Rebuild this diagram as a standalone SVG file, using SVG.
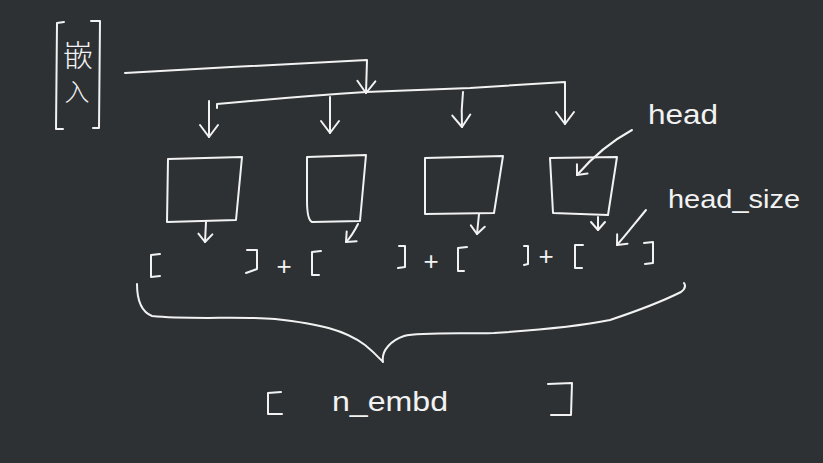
<svg xmlns="http://www.w3.org/2000/svg" width="823" height="463" viewBox="0 0 823 463">
<style>
.s{fill:none;stroke:#f2f2f2;stroke-width:2;stroke-linecap:round;stroke-linejoin:round}
.t{fill:#f2f2f2;font-family:"Liberation Sans","Noto Sans CJK SC",sans-serif}
.c{fill:#f2f2f2;font-family:"Noto Sans CJK SC","Noto Sans CJK JP",sans-serif;font-weight:300}
</style>
<defs>
<marker id="big" markerUnits="userSpaceOnUse" markerWidth="30" markerHeight="30" refX="0" refY="0" viewBox="-15 -15 30 30" orient="auto" overflow="visible">
<path d="M-12,-9 L0,0 L-12,9" fill="none" stroke="#f2f2f2" stroke-width="2" stroke-linecap="round" stroke-linejoin="round"/>
</marker>
<marker id="small" markerUnits="userSpaceOnUse" markerWidth="20" markerHeight="20" refX="0" refY="0" viewBox="-10 -10 20 20" orient="auto" overflow="visible">
<path d="M-8,-7 L0,0 L-8,7" fill="none" stroke="#f2f2f2" stroke-width="2" stroke-linecap="round" stroke-linejoin="round"/>
</marker>
</defs>
<rect width="823" height="463" fill="#2d3134"/>

<g id="embed">
<path class="s" d="M64,22 L57,23 L56,129 L63,129"/>
<path class="s" d="M91,21 L100,21 L99,128 L93,128"/>
<text class="c" x="78" y="66" font-size="30" text-anchor="middle">嵌</text>
<text class="c" x="77" y="101" font-size="25" text-anchor="middle">入</text>
</g>

<g id="head1"><path class="s" d="M168,159 L242,157 L236,220 L167,222 Z"/></g>
<g id="head2"><path class="s" d="M307,157 L366,155 L360,221 L312,222 Q307,220 307,200 Z"/></g>
<g id="head3"><path class="s" d="M425,158 L503,156 L494,213 L425,214 Z"/></g>
<g id="head4"><path class="s" d="M550,158 L617,157 L608,215 L553,213 Z"/></g>

<g id="label-head"><text class="t" x="648" y="124" font-size="28" textLength="70" lengthAdjust="spacingAndGlyphs">head</text></g>
<g id="label-head_size"><text class="t" x="668" y="208" font-size="26" textLength="132" lengthAdjust="spacingAndGlyphs">head_size</text></g>

<g id="concat">
<path class="s" d="M160,254 L151,255 L151,277 L160,276"/>
<path class="s" d="M247,250 L257,250 L257,269 L246,273"/>
<text class="t" x="284" y="275" font-size="26" text-anchor="middle">+</text>
<path class="s" d="M321,251 L312,252 L312,275 L319,275"/>
<path class="s" d="M399,246 L405,246 L405,267 L398,268"/>
<text class="t" x="431" y="270" font-size="26" text-anchor="middle">+</text>
<path class="s" d="M467,247 L458,248 L458,271 L464,271"/>
<path class="s" d="M524,246 L528,246 L528,264 L524,265"/>
<text class="t" x="546" y="265" font-size="26" text-anchor="middle">+</text>
<path class="s" d="M583,245 L575,245 L575,268 L582,268"/>
<path class="s" d="M644,243 L653,242 L653,263 L645,264"/>
</g>

<g id="brace">
<path class="s" d="M137,284 C137,300 142,312 152,316 C190,320 240,316 275,319 C320,324 345,330 365,345 C375,353 381,360 383,362 C381,350 392,340 404,336 C420,332 460,334 494,333 C540,330 580,326 610,320 C640,310 665,300 681,292 C685,289 686,286 684,283"/>
</g>

<g id="result">
<path class="s" d="M281,392 L268,393 L268,414 L282,414"/>
<text class="t" x="332" y="411" font-size="28" textLength="116" lengthAdjust="spacingAndGlyphs">n_embd</text>
<path class="s" d="M548,384 L572,383 L571,415 L551,415"/>
</g>

<g id="connectors">
<path class="s" d="M125,73 C200,69 300,63 367,60 L366,93" marker-end="url(#big)"/>
<path class="s" d="M217,108 L217,104 C260,100 320,95 366,92 L470,88 L565,82 L565,124" marker-end="url(#big)"/>
<path class="s" d="M209,101 L209,137" marker-end="url(#big)"/>
<path class="s" d="M330,97 L330,133" marker-end="url(#big)"/>
<path class="s" d="M463,92 Q461,110 462,127" marker-end="url(#big)"/>
<path class="s" d="M206,222 L205,242" marker-end="url(#small)"/>
<path class="s" d="M358,224 Q352,236 346,242" marker-end="url(#small)"/>
<path class="s" d="M479,214 L477,234" marker-end="url(#small)"/>
<path class="s" d="M598,217 L598,230" marker-end="url(#small)"/>
<path class="s" d="M632,130 C610,142 590,160 577,175" marker-end="url(#small)"/>
<path class="s" d="M646,210 C636,222 626,235 617,245" marker-end="url(#small)"/>
</g>
</svg>
